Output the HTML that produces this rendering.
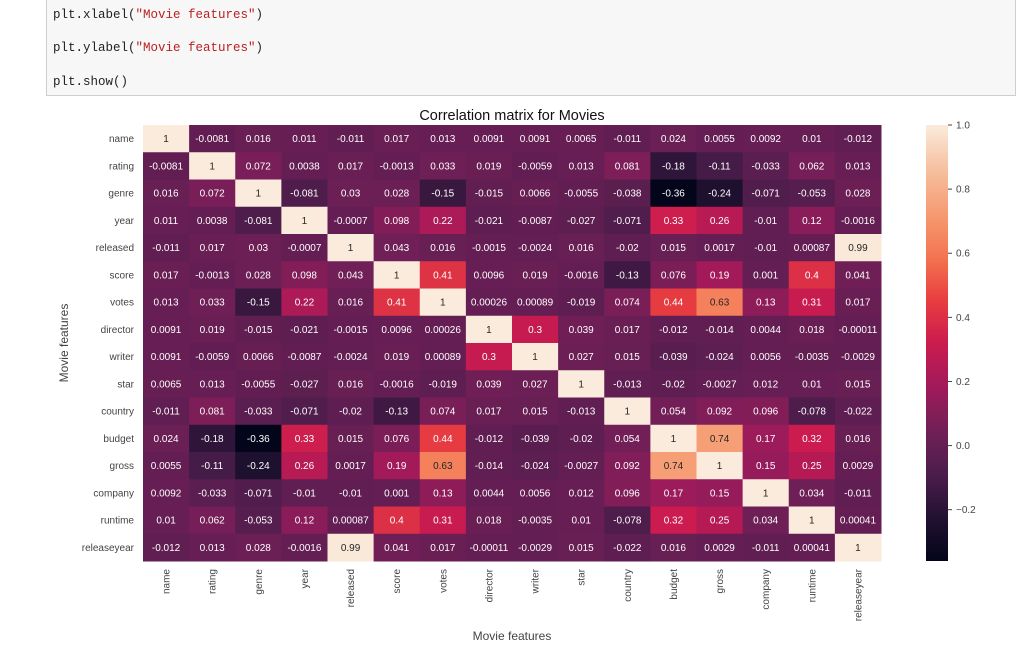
<!DOCTYPE html>
<html><head><meta charset="utf-8">
<style>
body{margin:0;background:#fff;width:1025px;height:656px;overflow:hidden;font-family:"Liberation Sans",sans-serif;}
#code{position:absolute;left:46px;top:-1px;width:970px;height:97px;background:#f7f7f7;border:1px solid #cfcfcf;box-sizing:border-box;font-family:"Liberation Mono",monospace;font-size:12.5px;color:#222;}
#code div{position:absolute;left:6px;}
.s{color:#ba2121;}
</style></head>
<body>
<div id="code">
<div style="top:8px">plt.xlabel(<span class="s">"Movie features"</span>)</div>
<div style="top:41px">plt.ylabel(<span class="s">"Movie features"</span>)</div>
<div style="top:75px">plt.show()</div>
</div>
<svg id="chart" width="1025" height="656" style="position:absolute;left:0;top:0"></svg>
<script>
const labels=["name","rating","genre","year","released","score","votes","director","writer","star","country","budget","gross","company","runtime","releaseyear"];
const rowName=[1,-0.0081,0.016,0.011,-0.011,0.017,0.013,0.0091,0.0091,0.0065,-0.011,0.024,0.0055,0.0092,0.01,-0.012];
const rowRating=[-0.0081,1,0.072,0.0038,0.017,-0.0013,0.033,0.019,-0.0059,0.013,0.081,-0.18,-0.11,-0.033,0.062,0.013];
const rowGenre=[0.016,0.072,1,-0.081,0.03,0.028,-0.15,-0.015,0.0066,-0.0055,-0.038,-0.36,-0.24,-0.071,-0.053,0.028];
const rowYear=[0.011,0.0038,-0.081,1,-0.0007,0.098,0.22,-0.021,-0.0087,-0.027,-0.071,0.33,0.26,-0.01,0.12,-0.0016];
const rowReleased=[-0.011,0.017,0.03,-0.0007,1,0.043,0.016,-0.0015,-0.0024,0.016,-0.02,0.015,0.0017,-0.01,0.00087,0.99];
const rowScore=[0.017,-0.0013,0.028,0.098,0.043,1,0.41,0.0096,0.019,-0.0016,-0.13,0.076,0.19,0.001,0.4,0.041];
const rowVotes=[0.013,0.033,-0.15,0.22,0.016,0.41,1,0.00026,0.00089,-0.019,0.074,0.44,0.63,0.13,0.31,0.017];
const rowDirector=[0.0091,0.019,-0.015,-0.021,-0.0015,0.0096,0.00026,1,0.3,0.039,0.017,-0.012,-0.014,0.0044,0.018,-0.00011];
const rowWriter=[0.0091,-0.0059,0.0066,-0.0087,-0.0024,0.019,0.00089,0.3,1,0.027,0.015,-0.039,-0.024,0.0056,-0.0035,-0.0029];
const rowStar=[0.0065,0.013,-0.0055,-0.027,0.016,-0.0016,-0.019,0.039,0.027,1,-0.013,-0.02,-0.0027,0.012,0.01,0.015];
const rowCountry=[-0.011,0.081,-0.033,-0.071,-0.02,-0.13,0.074,0.017,0.015,-0.013,1,0.054,0.092,0.096,-0.078,-0.022];
const rowBudget=[0.024,-0.18,-0.36,0.33,0.015,0.076,0.44,-0.012,-0.039,-0.02,0.054,1,0.74,0.17,0.32,0.016];
const rowGross=[0.0055,-0.11,-0.24,0.26,0.0017,0.19,0.63,-0.014,-0.024,-0.0027,0.092,0.74,1,0.15,0.25,0.0029];
const rowCompany=[0.0092,-0.033,-0.071,-0.01,-0.01,0.001,0.13,0.0044,0.0056,0.012,0.096,0.17,0.15,1,0.034,-0.011];
const rowRuntime=[0.01,0.062,-0.053,0.12,0.00087,0.4,0.31,0.018,-0.0035,0.01,-0.078,0.32,0.25,0.034,1,0.00041];
const rowReleaseyear=[-0.012,0.013,0.028,-0.0016,0.99,0.041,0.017,-0.00011,-0.0029,0.015,-0.022,0.016,0.0029,-0.011,0.00041,1];
const matrix=[rowName,rowRating,rowGenre,rowYear,rowReleased,rowScore,rowVotes,rowDirector,rowWriter,rowStar,rowCountry,rowBudget,rowGross,rowCompany,rowRuntime,rowReleaseyear];
const cbTicks=[-0.2,0.0,0.2,0.4,0.6,0.8,1.0];
const vmin=-0.36,vmax=1.0;

const NS="http://www.w3.org/2000/svg";
const svg=document.getElementById('chart');
const L=143,T=125,W=738,H=436;
const cw=W/labels.length,ch=H/labels.length;
const xPos=i=>L+i*cw, yPos=i=>T+i*ch;
const stops=[[0,[3,5,26]],[0.1,[34,17,50]],[0.2,[76,29,75]],[0.3,[113,31,87]],[0.4,[161,26,91]],[0.5,[203,27,79]],[0.6,[232,63,63]],[0.7,[243,118,81]],[0.8,[246,156,115]],[0.9,[246,193,160]],[1,[250,235,221]]];
function cmap(v){let t=(v-vmin)/(vmax-vmin);t=Math.max(0,Math.min(1,t));
 for(let i=1;i<stops.length;i++){if(t<=stops[i][0]){const a=stops[i-1],b=stops[i];const f=(t-a[0])/(b[0]-a[0]);
 return a[1].map((c,k)=>Math.round(c+(b[1][k]-c)*f));}}return stops[stops.length-1][1];}
function el(tag,attrs,txt){const e=document.createElementNS(NS,tag);for(const k in attrs)e.setAttribute(k,attrs[k]);if(txt!==undefined)e.textContent=txt;svg.appendChild(e);return e;}

matrix.forEach((row,r)=>row.forEach((v,c)=>{
 const col=cmap(v);
 const rect=el('rect',{x:xPos(c),y:yPos(r),width:cw+0.5,height:ch+0.5,fill:`rgb(${col})`});
 
 
 const lum=(0.2126*col[0]+0.7152*col[1]+0.0722*col[2])/255;
 const t=el('text',{x:xPos(c)+cw/2,y:yPos(r)+ch/2+3.5,'text-anchor':'middle','font-size':'10',fill:lum>0.408?'#262626':'#fff'},String(v));
 
 
}));
labels.forEach((lab,i)=>{
 const y=el('text',{x:L-9,y:yPos(i)+ch/2+3.5,'text-anchor':'end','font-size':'10',fill:'#444'},lab);
 
 
 const xx=xPos(i)+cw/2+3.5, yy=H+T+8;
 const x=el('text',{x:xx,y:yy,'text-anchor':'end','font-size':'10',fill:'#444',transform:`rotate(-90 ${xx} ${yy})`},lab);
 
 
});
const title=el('text',{x:L+W/2,y:120,'text-anchor':'middle','font-size':'14.5',fill:'#111'},'Correlation matrix for Movies');


const xl=el('text',{x:L+W/2,y:640,'text-anchor':'middle','font-size':'12',fill:'#444'},'Movie features');


const yl=el('text',{x:68,y:T+H/2,'text-anchor':'middle','font-size':'12',fill:'#444',transform:`rotate(-90 68 ${T+H/2})`},'Movie features');


const CBX=926,CBW=22;
const cbY=v=>T+H-(v-vmin)/(vmax-vmin)*H;
const defs=el('defs',{});
const lg=document.createElementNS(NS,'linearGradient');
lg.setAttribute('id','cbg');lg.setAttribute('x1','0');lg.setAttribute('y1','1');lg.setAttribute('x2','0');lg.setAttribute('y2','0');
for(let i=0;i<=40;i++){const s=document.createElementNS(NS,'stop');s.setAttribute('offset',i/40);s.setAttribute('stop-color',`rgb(${cmap(vmin+(vmax-vmin)*i/40)})`);lg.appendChild(s);}
defs.appendChild(lg);
const cb=el('rect',{x:CBX,y:T,width:CBW,height:H,fill:'url(#cbg)'});


cbTicks.forEach(v=>{
 el('line',{x1:CBX+CBW,x2:CBX+CBW+4,y1:cbY(v),y2:cbY(v),stroke:'#444','stroke-width':1});
 const t=el('text',{x:CBX+CBW+8,y:cbY(v)+3.5,'font-size':'10',fill:'#444'},v<0?'\u2212'+Math.abs(v).toFixed(1):v.toFixed(1));
 
 
});
</script>
</body></html>
